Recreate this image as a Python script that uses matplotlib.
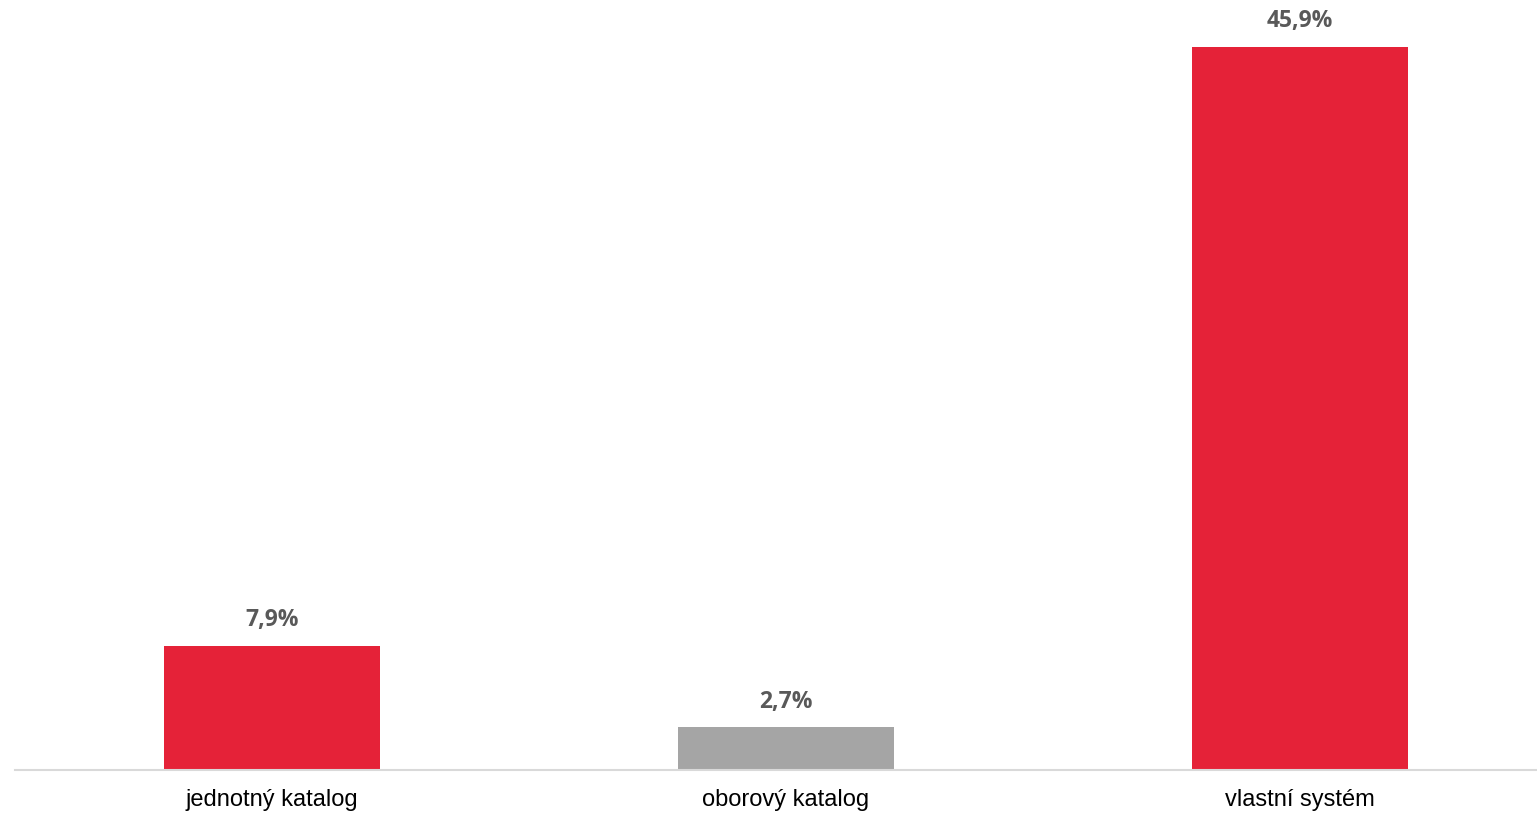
import matplotlib.pyplot as plt

categories = ['jednotný katalog', 'oborový katalog', 'vlastní systém']
values = [7.9, 2.7, 45.9]
labels = ['7,9%', '2,7%', '45,9%']
colors = ['#E52238', '#A5A5A5', '#E52238']

fig = plt.figure(figsize=(15.37, 8.15), dpi=100)
ax = fig.add_axes([15 / 1537, 45 / 815, 1542 / 1537, 770 / 815])

x = range(len(categories))
bars = ax.bar(x, values, width=0.42, color=colors, zorder=2)

for bar, lab in zip(bars, labels):
    ax.annotate(lab, (bar.get_x() + bar.get_width() / 2, bar.get_height()),
                xytext=(0, 10), textcoords='offset points',
                ha='center', va='bottom', fontsize=16.5, fontweight='bold',
                color='#595959', family='Open Sans')

ax.set_xlim(-0.5, 2.5)
ax.set_ylim(0, 770 / 15.75)
ax.set_xticks(list(x))
ax.set_xticklabels(categories, fontsize=17, family='Liberation Sans', color='black')
ax.tick_params(axis='x', length=0, pad=13.5)
ax.set_yticks([])
for side in ['top', 'right', 'left']:
    ax.spines[side].set_visible(False)
ax.spines['bottom'].set_color('#D9D9D9')
ax.spines['bottom'].set_linewidth(1.5)

fig.savefig('out.png', dpi=100)
